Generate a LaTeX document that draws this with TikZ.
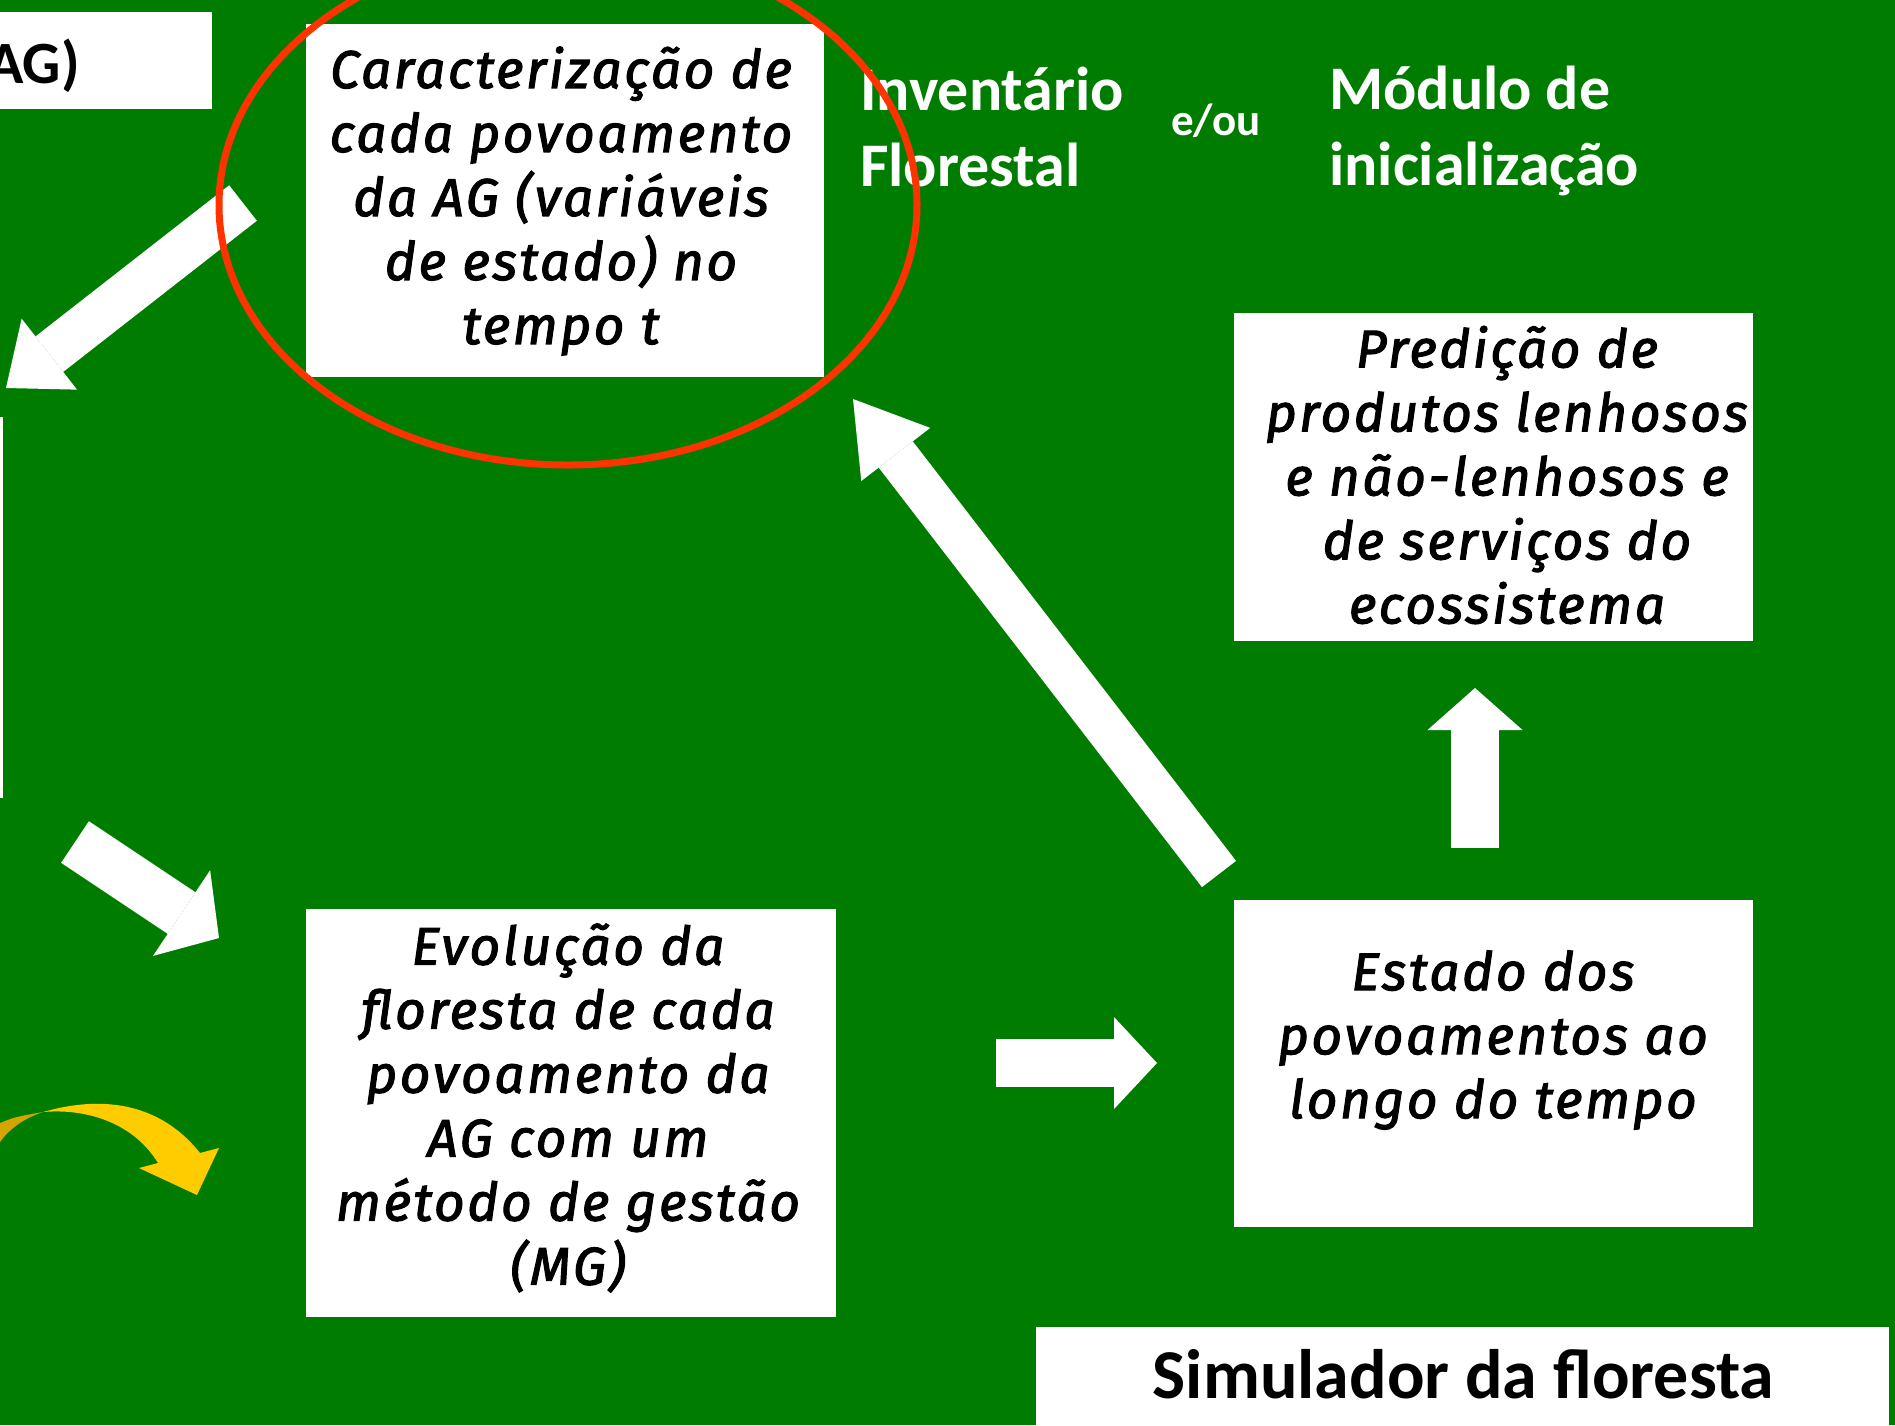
\documentclass[tikz,border=0pt]{standalone}
\usepackage{fontspec}
\usepackage{tikz}
\usetikzlibrary{arrows.meta}
\newfontfamily\calfont{Carlito}
\newfontfamily\boxfont[FakeBold=2.2,LetterSpace=5]{Fira Sans}
\definecolor{slidegreen}{RGB}{0,125,0}
\definecolor{ringred}{RGB}{255,51,0}
\definecolor{arrowgold}{RGB}{255,204,0}
\definecolor{arrowshade}{RGB}{212,165,0}
\tikzstyle{every node}=[inner sep=0pt]
\tikzstyle{box}=[fill=white]
\tikzstyle{boxtext}=[align=center,font=\boxfont\itshape\fontsize{53}{64}\selectfont]
\tikzstyle{toptext}=[align=left,text=white,font=\calfont\bfseries\fontsize{62}{76}\selectfont]
\tikzset{fat/.style n args={3}{draw=white,line width=#1pt,-{Triangle[length=#3pt,width=#2pt,line width=0pt]}}}

\begin{document}
\begin{tikzpicture}[x=1pt,y=-1pt]
\useasboundingbox (0,0) rectangle (1895,1425);
\clip (0,0) rectangle (1895,1425);
\fill [slidegreen] (0,0) rectangle (1895,1425);

\node [box,minimum width=240pt,minimum height=97pt] (agbox) at (92,60.5) {};
\node [anchor=east,font=\calfont\bfseries\fontsize{60}{70}\selectfont] (ag) at (80,66) {AG)};
\fill [white] (0,417) rectangle (3,798);

\node [box,minimum width=518pt,minimum height=353pt] (carac) at (565,200.5) {};
\node [boxtext] (caractxt) at (561,201) {Caracterização de\\cada povoamento\\da AG (variáveis\\de estado) no\\tempo t};

\node [toptext,anchor=west] (inv) at (860,127) {Inventário\\Florestal};
\node [text=white,font=\calfont\bfseries\fontsize{45}{54}\selectfont] (eou) at (1216,121) {e/ou};
\node [toptext,anchor=west] (modulo) at (1329,131) {Módulo de\\inicialização};

\node [box,minimum width=519pt,minimum height=328pt] (pred) at (1493.5,477) {};
\node [boxtext] (predtxt) at (1507,475) {Predição de\\produtos lenhosos\\e não-lenhosos e\\de serviços do\\ecossistema};

\node [box,minimum width=519pt,minimum height=327pt] (estado) at (1493.5,1063.5) {};
\node [boxtext] (estadotxt) at (1493,1040) {Estado dos\\povoamentos ao\\longo do tempo};

\node [box,minimum width=530pt,minimum height=408pt] (evol) at (571,1113) {};
\node [boxtext] (evoltxt) at (568,1108) {Evolução da\\floresta de cada\\povoamento da\\AG com um\\método de gestão\\(MG)};

\node [box,minimum width=853pt,minimum height=98pt] (sim) at (1462.5,1376) {};
\node [font=\calfont\bfseries\fontsize{70}{84}\selectfont] (simtxt) at (1463.5,1374) {Simulador da floresta};

\coordinate (a1s) at (243,203);
\coordinate (a1e) at (6,388);
\coordinate (a2s) at (75,842);
\coordinate (a2e) at (219,938);
\coordinate (a3s) at (1219,874);
\coordinate (a3e) at (853,399);
\coordinate (a4s) at (996,1063);
\coordinate (a4e) at (1157,1063);
\coordinate (a5s) at (1475,848);
\coordinate (a5e) at (1475,688);

\draw [fat={45}{90}{55}] (a1s) -- (a1e);
\draw [fat={50}{103}{45}] (a2s) -- (a2e);
\draw [fat={43}{87}{70}] (a3s) -- (a3e);
\draw [fat={48}{92}{43}] (a4s) -- (a4e);
\draw [fat={48}{95}{42}] (a5s) -- (a5e);

\fill [arrowshade] (0,1123) .. controls (15,1117) .. (43,1112) .. controls (25,1118) and (10,1128) .. (0,1142) -- cycle;
\fill [arrowgold] (43,1112) .. controls (120,1090) and (170,1115) .. (200,1153) -- (219,1148) -- (197,1195) -- (139,1168) -- (158,1163) .. controls (135,1125) and (90,1108) .. (43,1112) -- cycle;

\draw [ringred,line width=7pt] (568,205) ellipse (349 and 260);
\end{tikzpicture}
\end{document}
